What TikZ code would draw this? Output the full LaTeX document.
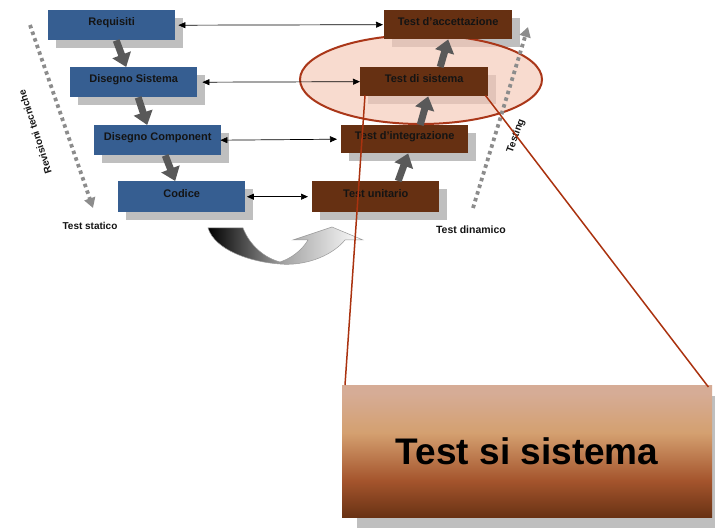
\documentclass[tikz,border=0pt]{standalone}
\usepackage{fontspec}
\setmainfont{Liberation Sans}
\usetikzlibrary{arrows.meta,calc,shapes.geometric}
\definecolor{boxblue}{RGB}{54,94,145}
\definecolor{boxbrown}{RGB}{102,48,18}
\definecolor{shadowc}{RGB}{191,191,191}
\definecolor{arrowgrey}{RGB}{89,89,89}
\definecolor{dotgrey}{RGB}{140,140,140}
\definecolor{ellfill}{RGB}{245,200,182}
\definecolor{elldraw}{RGB}{170,55,25}
\definecolor{redl}{RGB}{170,50,15}
\definecolor{txtc}{RGB}{20,20,20}
\definecolor{bbA}{RGB}{214,172,150}
\definecolor{bbB}{RGB}{212,160,112}
\definecolor{bbC}{RGB}{165,85,45}
\definecolor{bbD}{RGB}{105,50,20}
\pgfdeclareverticalshading{bigshade}{100bp}{color(0bp)=(bbD); color(25bp)=(bbD); color(39bp)=(bbC); color(57bp)=(bbB); color(72bp)=(bbA); color(100bp)=(bbA)}
\pgfdeclarelayer{bg}
\pgfdeclarelayer{mid}
\pgfsetlayers{bg,mid,main}
\tikzset{
  boxbase/.style={rectangle, anchor=north west, minimum width=127pt, minimum height=30pt, inner sep=0pt,
    text=txtc, font=\fontsize{11}{13}\selectfont\bfseries, text height=5pt, text depth=4pt},
  lbox/.style={boxbase, fill=boxblue},
  rbox/.style={boxbase, fill=boxbrown},
  bigarrow/.style={draw=arrowgrey, line width=7pt, -{Triangle[length=13pt,width=19pt]}},
  harrow/.style={draw=black, line width=0.7pt, {Triangle[length=7pt,width=6pt]}-{Triangle[length=7pt,width=6pt]}},
  dotarrow/.style={draw=dotgrey, line width=3.8pt, dash pattern=on 3.5pt off 3.5pt, -{Triangle[length=10pt,width=11pt]}},
  lbl/.style={font=\fontsize{10}{12}\selectfont\bfseries, text=txtc, inner sep=0pt},
  redline/.style={draw=redl, line width=1.5pt}
}
\begin{document}
\begin{tikzpicture}[x=1pt,y=-1pt]
\useasboundingbox (0,0) rectangle (715,529);

% left boxes
\node[lbox] (req) at (48,10) {Requisiti};
\node[lbox] (ds) at (70,67) {Disegno Sistema};
\node[lbox] (dc) at (94,125) {Disegno Component};
\node[lbox, minimum height=31pt] (cod) at (118,181) {Codice};
% right boxes
\node[rbox, minimum width=128pt, minimum height=29pt] (ta) at (384,10) {Test d’accettazione};
\node[rbox, minimum width=128pt, minimum height=29pt] (ts) at (360,67) {Test di sistema};
\node[rbox, minimum height=28pt] (ti) at (341,125) {Test d’integrazione};
\node[rbox, minimum height=31pt] (tu) at (312,181) {Test unitario};

% big box
\node[rectangle, anchor=north west, minimum width=370pt, minimum height=132pt, inner sep=0pt,
  shading=bigshade, font=\fontsize{37}{40}\selectfont\bfseries, text=black] (big) at (342,385) {Test si sistema};

\begin{pgfonlayer}{bg}
\fill[white] (0,0) rectangle (715,529);
\foreach \n in {req,ds,dc,cod,ta,ts,ti,tu}
  \fill[shadowc] ([shift={(8,8)}]\n.north west) rectangle ([shift={(8,8)}]\n.south east);
\fill[shadowc] ([shift={(15,11)}]big.north west) rectangle ([shift={(15,11)}]big.south east);
\end{pgfonlayer}

\begin{pgfonlayer}{mid}
\node[ellipse, draw=elldraw, line width=2pt, fill=ellfill, fill opacity=0.65, draw opacity=1,
  minimum width=242pt, minimum height=89pt, inner sep=0pt] (ell) at (421,79.5) {};
\end{pgfonlayer}

% thick grey arrows
\draw[bigarrow] ([xshift=4.5pt]req.south) -- ([xshift=-7.5pt]ds.north);
\draw[bigarrow] ([xshift=4.5pt]ds.south) -- ([xshift=-10.5pt]dc.north);
\draw[bigarrow] ([xshift=7.5pt]dc.south) -- ([xshift=-6.5pt]cod.north);
\draw[bigarrow] ([xshift=22.5pt]tu.north) -- ([xshift=3.5pt]ti.south);
\draw[bigarrow] ([xshift=15.5pt]ti.north) -- ([xshift=4pt]ts.south);
\draw[bigarrow] ([xshift=16pt]ts.north) -- ([xshift=0pt]ta.south);

% horizontal double arrows
\draw[harrow] ([xshift=3pt]req.east) -- ([xshift=-1pt]ta.west);
\draw[harrow] ([xshift=5pt]ds.east) -- (ts.west);
\draw[harrow] ([xshift=-1pt]dc.east) -- ([xshift=-4pt]ti.west);
\draw[harrow] ([xshift=1.5pt]cod.east) -- ([xshift=-4pt]tu.west);

% dotted arrows
\coordinate (ls) at (30,25);
\coordinate (le) at (93,208);
\coordinate (rs) at (473,208);
\coordinate (re) at (528,27);
\draw[dotarrow] (ls) -- (le);
\draw[dotarrow] (rs) -- (re);

% labels
\node[lbl, rotate=108] (revt) at (35,132) {Revisioni tecniche};
\node[lbl, rotate=70] (testing) at (516,136) {Testing};
\node[lbl] (tstat) at (90,226) {Test statico};
\node[lbl, font=\fontsize{10.5}{12}\selectfont\bfseries] (tdin) at (471,230) {Test dinamico};

% U-turn arrow
\path[draw=gray!80, line width=0.5pt, left color=black, right color=white, middle color=gray!70]
  (208,228) -- (243,228) .. controls (250,246) and (265,258) .. (280,262)
  .. controls (292,258) and (302,250) .. (308,240) -- (293,240) -- (332,227) -- (363,240) -- (345,240)
  .. controls (330,258) and (302,266) .. (280,264) .. controls (250,262) and (215,250) .. (208,228) -- cycle;

% red connector lines
\draw[redline] ([shift={(5,-1)}]ts.south west) -- ([shift={(3,0)}]big.north west);
\draw[redline] ([shift={(-3,-1)}]ts.south east) -- ([shift={(-4,2)}]big.north east);
\end{tikzpicture}
\end{document}
